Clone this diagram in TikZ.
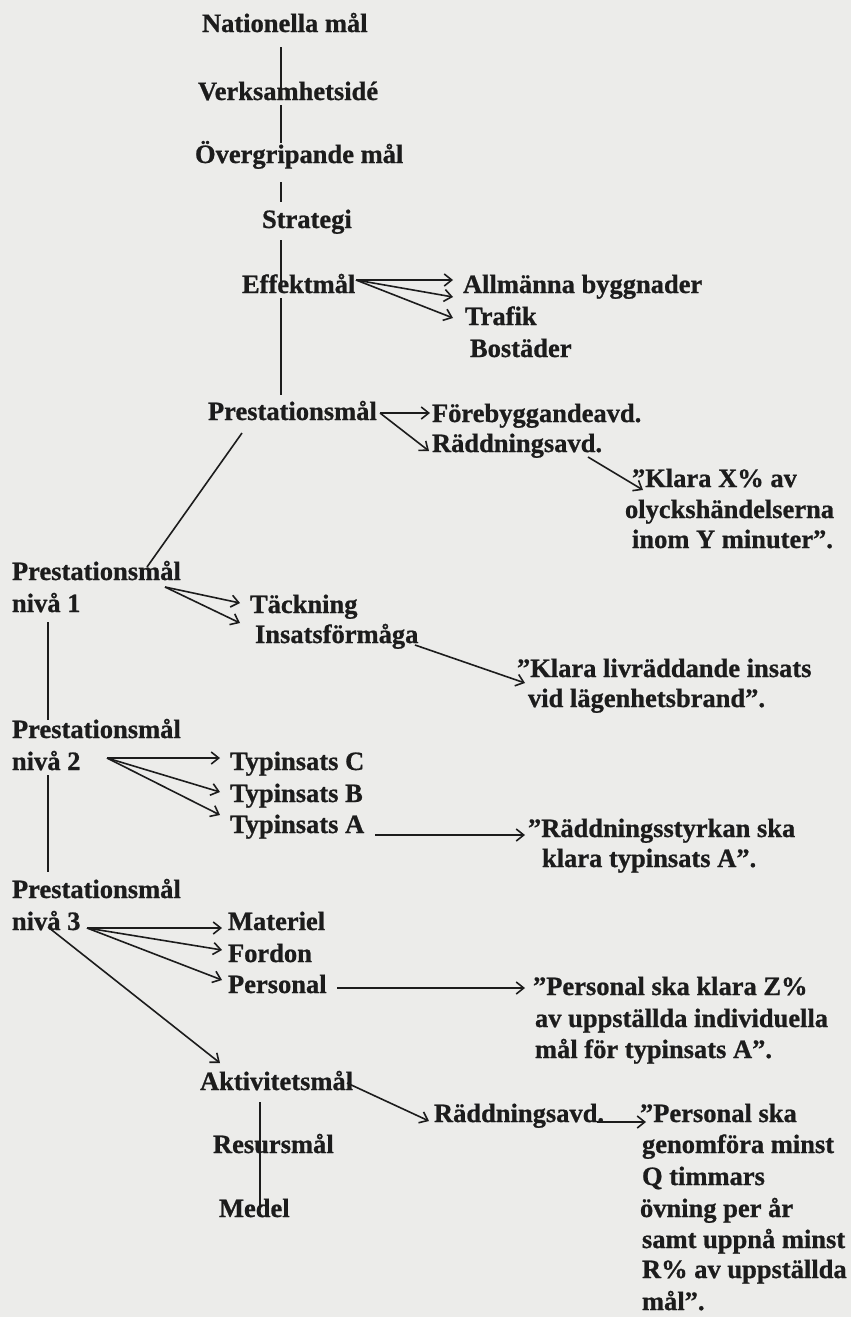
\documentclass[tikz,border=0pt]{standalone}
\usepackage{fontspec}
\setmainfont{Liberation Serif}[BoldFeatures={FakeBold=0.8}]
\usetikzlibrary{calc,arrows.meta}
\definecolor{bg}{RGB}{236,236,234}
\definecolor{ink}{RGB}{28,28,28}
\begin{document}
\begin{tikzpicture}[x=1pt,y=1pt,
  lbl/.style={anchor=base west, inner sep=0pt, outer sep=0pt, text=ink,
    font=\fontsize{26.5}{31.5}\selectfont\bfseries},
  ln/.style={draw=ink, line width=1.6pt},
  arr/.style={ln, -{Straight Barb[length=7.5pt,width=12pt]}}]
\fill[bg] (0,0) rectangle (851,-1317);
\useasboundingbox (0,0) rectangle (851,-1317);
\coordinate (sp1) at (281,0);
\coordinate (sp2) at (48,0);
\coordinate (sp3) at (260,0);
% nodes
\node[lbl] (nat) at (202,-32) {Nationella mål};
\node[lbl] (verk) at (198,-100) {Verksamhetsidé};
\node[lbl] (over) at (195,-163) {Övergripande mål};
\node[lbl] (strat) at (262,-228) {Strategi};
\node[lbl] (eff) at (242,-293) {Effektmål};
\node[lbl] (allm) at (463,-293) {Allmänna byggnader};
\node[lbl] (traf) at (465,-325) {Trafik};
\node[lbl] (bost) at (470,-357) {Bostäder};
\node[lbl] (prest) at (208,-420) {Prestationsmål};
\node[lbl] (fore) at (432,-422) {Förebyggandeavd.};
\node[lbl] (radd1) at (432,-452) {Räddningsavd.};
\node[lbl] (kx1) at (632,-487) {”Klara X\% av};
\node[lbl] (kx2) at (625,-518) {olyckshändelserna};
\node[lbl] (kx3) at (632,-548) {inom Y minuter”.};
\node[lbl] (p1a) at (12,-580) {Prestationsmål};
\node[lbl] (p1b) at (12,-612) {nivå 1};
\node[lbl] (tack) at (250,-613) {Täckning};
\node[lbl] (insf) at (255,-643) {Insatsförmåga};
\node[lbl] (kl1) at (517,-677) {”Klara livräddande insats};
\node[lbl] (kl2) at (528,-707) {vid lägenhetsbrand”.};
\node[lbl] (p2a) at (12,-738) {Prestationsmål};
\node[lbl] (p2b) at (12,-770) {nivå 2};
\node[lbl] (typc) at (230,-770) {Typinsats C};
\node[lbl] (typb) at (230,-802) {Typinsats B};
\node[lbl] (typa) at (230,-833) {Typinsats A};
\node[lbl] (rs1) at (528,-837) {”Räddningsstyrkan ska};
\node[lbl] (rs2) at (542,-867) {klara typinsats A”.};
\node[lbl] (p3a) at (12,-898) {Prestationsmål};
\node[lbl] (p3b) at (12,-930) {nivå 3};
\node[lbl] (mat) at (228,-930) {Materiel};
\node[lbl] (ford) at (228,-962) {Fordon};
\node[lbl] (pers) at (228,-993) {Personal};
\node[lbl] (pz1) at (533,-995) {”Personal ska klara Z\%};
\node[lbl] (pz2) at (535,-1027) {av uppställda individuella};
\node[lbl] (pz3) at (535,-1058) {mål för typinsats A”.};
\node[lbl] (akt) at (200,-1090) {Aktivitetsmål};
\node[lbl] (radd2) at (434,-1122) {Räddningsavd.};
\node[lbl] (pq1) at (640,-1122) {”Personal ska};
\node[lbl] (pq2) at (642,-1153) {genomföra minst};
\node[lbl] (pq3) at (642,-1185) {Q timmars};
\node[lbl] (pq4) at (640,-1217) {övning per år};
\node[lbl] (pq5) at (642,-1248) {samt uppnå minst};
\node[lbl] (pq6) at (642,-1278) {R\% av uppställda};
\node[lbl] (pq7) at (642,-1310) {mål”.};
\node[lbl] (res) at (213,-1153) {Resursmål};
\node[lbl] (med) at (219,-1217) {Medel};
% spine
\draw[ln] ($(nat.base -| sp1)+(0,-15)$) -- (verk.base -| sp1);
\draw[ln] ($(verk.base -| sp1)+(0,-5)$) -- ($(over.base -| sp1)+(0,20)$);
\draw[ln] ($(over.base -| sp1)+(0,-19)$) -- ($(strat.base -| sp1)+(0,26)$);
\draw[ln] ($(strat.base -| sp1)+(0,-12)$) -- ($(eff.base -| sp1)+(0,10)$);
\draw[ln] ($(eff.base -| sp1)+(0,-5)$) -- ($(prest.base -| sp1)+(0,25)$);
% Effektmål
\draw[arr] ($(eff.base west)+(114,13)$) -- ($(allm.base west)+(-10,13)$);
\draw[arr] ($(eff.base west)+(114,13)$) -- ($(traf.base west)+(-12,28)$);
\draw[arr] ($(eff.base west)+(114,13)$) -- ($(traf.base west)+(-12,7)$);
% Prestationsmål
\draw[arr] ($(prest.base west)+(172,7)$) -- ($(fore.base west)+(-2,9)$);
\draw[arr] ($(prest.base west)+(172,7)$) -- ($(radd1.base west)+(-3,1)$);
\draw[arr] ($(radd1.base west)+(156,-5)$) -- ($(kx1.base west)+(11,-3)$);
\draw[ln] ($(prest.base west)+(34,-13)$) -- ($(p1a.base west)+(135,13)$);
% nivå 1
\draw[arr] ($(p1a.base west)+(153,-7)$) -- ($(tack.base west)+(-10,10)$);
\draw[arr] ($(p1a.base west)+(153,-7)$) -- ($(tack.base west)+(-10,-10)$);
\draw[arr] ($(insf.base west)+(160,-2)$) -- ($(kl1.base west)+(8,-6)$);
\draw[ln] ($(p1b.base west)+(36,-10)$) -- ($(p2a.base west)+(36,18)$);
% nivå 2
\draw[arr] ($(p2b.base west)+(95,12)$) -- ($(typc.base west)+(-10,12)$);
\draw[arr] ($(p2b.base west)+(95,12)$) -- ($(typb.base west)+(-10,10)$);
\draw[arr] ($(p2b.base west)+(95,12)$) -- ($(typa.base west)+(-10,18)$);
\draw[arr] ($(typa.base west)+(145,-2)$) -- ($(rs1.base west)+(-3,2)$);
\draw[ln] ($(p2b.base west)+(36,-5)$) -- ($(p3a.base west)+(36,26)$);
% nivå 3
\draw[arr] ($(p3b.base west)+(75,2)$) -- ($(mat.base west)+(-6,2)$);
\draw[arr] ($(p3b.base west)+(75,2)$) -- ($(ford.base west)+(-6,12)$);
\draw[arr] ($(p3b.base west)+(75,2)$) -- ($(pers.base west)+(-6,13)$);
\draw[arr] ($(p3b.base west)+(36,3)$) -- ($(akt.base west)+(20,27)$);
\draw[arr] ($(pers.base west)+(109,5)$) -- ($(pz1.base west)+(-8,7)$);
% Aktivitetsmål
\draw[arr] ($(akt.base west)+(147,7)$) -- ($(radd2.base west)+(-5,1)$);
\draw[arr] ($(radd2.base west)+(163,0)$) -- ($(pq1.base west)+(6,0)$);
\draw[ln] ($(akt.base -| sp3)+(0,-12)$) -- (res.base -| sp3);
\draw[ln] (res.base -| sp3) -- ($(med.base -| sp3)+(0,7)$);
\end{tikzpicture}
\end{document}
